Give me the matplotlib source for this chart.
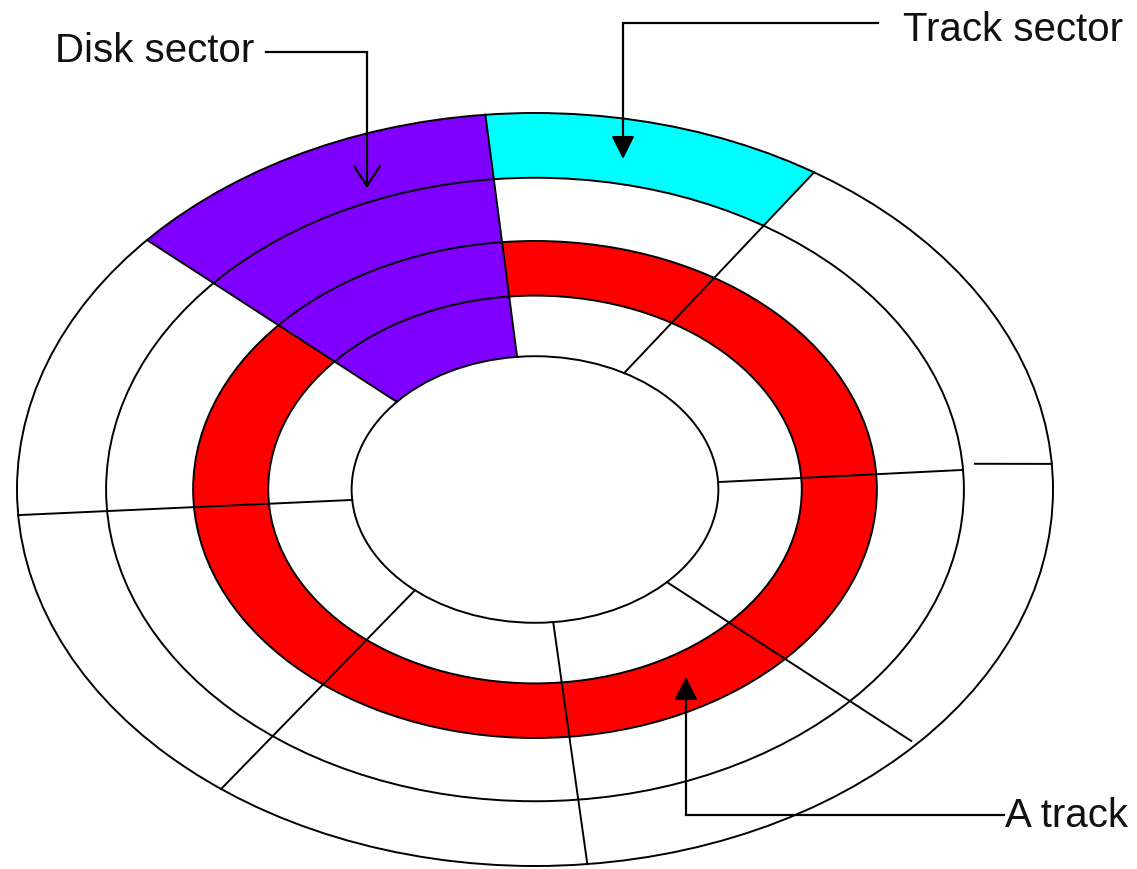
import numpy as np
import matplotlib
matplotlib.use("Agg")
import matplotlib.pyplot as plt
from matplotlib.patches import Circle, Polygon, Wedge
from matplotlib.transforms import Affine2D

# disk drawn as unit circles, stretched to the ellipse of the picture
disk_center = (535, 490.5)
disk_axes = (518, 376.5)

# ring edges, as fraction of the outer edge (outer -> inner)
ring_radius = [1.0, 0.828, 0.66, 0.515, 0.354]

# straight sector lines: radius / angle (deg) where each one starts and ends
line_r_start = [0.354, 0.852, 0.354, 0.354, 0.354, 0.354, 0.354, 0.354, 0.354]
line_t_start = [3.2, 4.6, 60.9, 95.6, 138.9, 184.5, 229.1, 275.7, 316.0]
line_r_end = [0.828, 1.0, 1.0, 1.0, 1.0, 1.0, 1.0, 1.0, 0.987]
line_t_end = [3.6, 3.9, 57.4, 95.5, 138.5, 183.9, 232.7, 275.8, 317.4]

labels = ["Disk sector", "Track sector", "A track"]

PURPLE = "#8000FF"
CYAN = "#00FFFF"
RED = "#FF0000"


def line_pts(i):
    r0, t0 = line_r_start[i], np.radians(line_t_start[i])
    r1, t1 = line_r_end[i], np.radians(line_t_end[i])
    return (np.array([r0 * np.cos(t0), r0 * np.sin(t0)]),
            np.array([r1 * np.cos(t1), r1 * np.sin(t1)]))


def angle_on(i, r):
    """Angle where sector line i crosses the ring of radius r."""
    p0, p1 = line_pts(i)
    d = p1 - p0
    a = d @ d
    b = 2 * (p0 @ d)
    c = p0 @ p0 - r * r
    s = (-b + np.sqrt(max(b * b - 4 * a * c, 0))) / (2 * a)
    p = p0 + s * d
    return np.degrees(np.arctan2(p[1], p[0]))


def sector_poly(i_lo, i_hi, r_in, r_out, **kw):
    t_out = np.radians(np.linspace(angle_on(i_lo, r_out), angle_on(i_hi, r_out), 80))
    t_in = np.radians(np.linspace(angle_on(i_hi, r_in), angle_on(i_lo, r_in), 80))
    xy = np.vstack([np.c_[r_out * np.cos(t_out), r_out * np.sin(t_out)],
                    np.c_[r_in * np.cos(t_in), r_in * np.sin(t_in)]])
    return Polygon(xy, closed=True, **kw)


fig = plt.figure(figsize=(11.37, 8.70), dpi=100)
ax = fig.add_axes([0, 0, 1, 1])
ax.set_xlim(0, 1137)
ax.set_ylim(870, 0)
ax.axis("off")

tr = Affine2D().scale(disk_axes[0], -disk_axes[1]).translate(*disk_center) + ax.transData

# ── fills ─────────────────────────────────────────────
ax.add_patch(Wedge((0, 0), ring_radius[2], 0, 360,
                   width=ring_radius[2] - ring_radius[3],
                   facecolor=RED, edgecolor="none", transform=tr, zorder=1))
ax.add_patch(sector_poly(3, 4, ring_radius[4], ring_radius[0],
                         facecolor=PURPLE, edgecolor="none", transform=tr, zorder=1.5))
ax.add_patch(sector_poly(2, 3, ring_radius[1], ring_radius[0],
                         facecolor=CYAN, edgecolor="none", transform=tr, zorder=1.5))

# ── outlines ──────────────────────────────────────────
for r in ring_radius:
    ax.add_patch(Circle((0, 0), r, fill=False, edgecolor="black",
                        linewidth=1.4, transform=tr, zorder=2))
for i in range(len(line_r_start)):
    p0, p1 = line_pts(i)
    ax.plot([p0[0], p1[0]], [p0[1], p1[1]], color="black",
            linewidth=1.4, transform=tr, zorder=2)

# ── labels with leaders ───────────────────────────────
font = dict(fontsize=29, family=["Liberation Sans", "DejaVu Sans"],
            color="#111111", va="baseline")
lw = 1.6

ax.text(55, 62, labels[0], ha="left", **font)
ax.plot([266, 367], [53, 53], color="black", linewidth=lw, zorder=3)
ax.annotate("", xy=(367, 189), xytext=(367, 53),
            arrowprops=dict(arrowstyle="->,head_length=1.0,head_width=0.65",
                            mutation_scale=14, color="black", lw=lw,
                            shrinkA=0, shrinkB=0), zorder=3)

ax.text(903, 41, labels[1], ha="left", **font)
ax.plot([878, 623], [24, 24], color="black", linewidth=lw, zorder=3)
ax.annotate("", xy=(623, 160), xytext=(623, 24),
            arrowprops=dict(arrowstyle="-|>,head_length=1.0,head_width=0.5",
                            mutation_scale=14, color="black", lw=lw,
                            shrinkA=0, shrinkB=0), zorder=3)

ax.text(1005, 827, labels[2], ha="left", **font)
ax.plot([1004, 686], [816, 816], color="black", linewidth=lw, zorder=3)
ax.annotate("", xy=(686, 678), xytext=(686, 816),
            arrowprops=dict(arrowstyle="-|>,head_length=1.0,head_width=0.5",
                            mutation_scale=14, color="black", lw=lw,
                            shrinkA=0, shrinkB=0), zorder=3)

fig.savefig("out.png", dpi=100)
